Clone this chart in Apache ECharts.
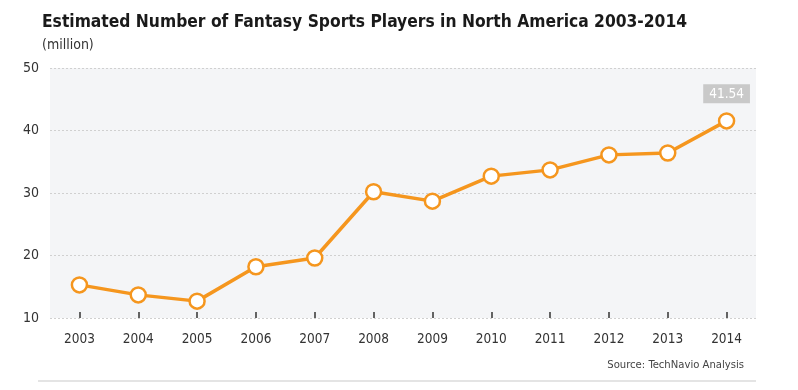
<!DOCTYPE html>
<html><head><meta charset="utf-8">
<script src="https://cdn.jsdelivr.net/npm/echarts@6/dist/echarts.min.js"></script>
<style>html,body{margin:0;padding:0;background:#fff}#c{width:798px;height:390px}</style>
</head><body><div id="c"></div>
<script>
const years = ['2003','2004','2005','2006','2007','2008','2009','2010','2011','2012','2013','2014'];
const players = [15.3, 13.7, 12.7, 18.2, 19.6, 30.2, 28.7, 32.7, 33.7, 36.1, 36.4, 41.54];
const yTicks = [10, 20, 30, 40, 50];
const FONT = '"DejaVu Sans Condensed", "DejaVu Sans", sans-serif';
const chart = echarts.init(document.getElementById('c'));
const last = players.length - 1;
chart.setOption({
  animation: false,
  textStyle: { fontFamily: FONT },
  title: [
    { text: 'Estimated Number of Fantasy Sports Players in North America 2003-2014', left: 37, top: 9,
      textStyle: { fontFamily: FONT, fontSize: 17.3, fontWeight: 'bold', color: '#1a1a1a' } },
    { text: '(million)', left: 37, top: 33, textStyle: { fontFamily: FONT, fontSize: 14, fontWeight: 'normal', color: '#333' } },
    { text: 'Source: TechNavio Analysis', right: 49, top: 355, textStyle: { fontFamily: FONT, fontSize: 11.2, fontWeight: 'normal', color: '#444' } }
  ],
  graphic: [{ type: 'line', shape: { x1: 38, y1: 381, x2: 756, y2: 381 }, style: { stroke: '#e4e4e4', lineWidth: 2 } }],
  grid: { left: 50, right: 42, top: 68, bottom: 72, show: true, backgroundColor: '#f4f5f7', borderWidth: 0 },
  xAxis: {
    type: 'category', data: years, boundaryGap: true,
    axisLine: { show: false },
    axisTick: { show: true, inside: true, alignWithLabel: true, length: 6, lineStyle: { color: '#333', width: 1.5 } },
    axisLabel: { fontFamily: FONT, fontSize: 13.5, color: '#333', margin: 14 }
  },
  yAxis: {
    type: 'value', min: yTicks[0], max: yTicks[yTicks.length - 1], interval: 10,
    axisLine: { show: false }, axisTick: { show: false },
    axisLabel: { fontFamily: FONT, fontSize: 14, color: '#333', margin: 11 },
    splitLine: { show: true, lineStyle: { color: '#d0d0d0', type: [2, 2], width: 1 } }
  },
  series: [{
    type: 'line', data: players.map((v, i) => i === last ? {
      value: v,
      label: { show: true, position: 'top', distance: 9, formatter: '{c}', color: '#fff', fontSize: 13.5,
        fontFamily: FONT, backgroundColor: '#c9c9c9', padding: [3, 6, 2, 6] }
    } : v),
    symbol: 'circle', symbolSize: 15,
    lineStyle: { color: '#f5961e', width: 3.5 },
    itemStyle: { color: '#fff', borderColor: '#f5961e', borderWidth: 2.5 }
  }]
});
</script></body></html>
